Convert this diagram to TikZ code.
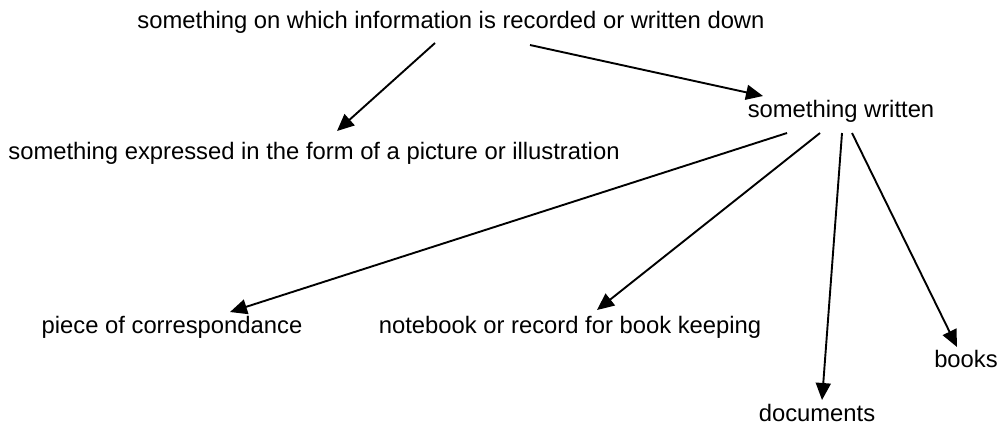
\documentclass[tikz,border=0pt]{standalone}
\usepackage{fontspec}
\setmainfont{Liberation Sans}
\usepackage{tikz}
\usetikzlibrary{calc,arrows.meta}

\begin{document}
\begin{tikzpicture}[x=0.5pt,y=-0.5pt]
  % 1 unit = 1 px of the 999x425 layout
  \tikzset{
    term/.style={font=\fontsize{11.9}{14}\selectfont,inner sep=1pt},
    arr/.style={-{Triangle[length=8.5pt,width=7.5pt]},line width=0.95pt}
  }
  \useasboundingbox (0,0) rectangle (999,425);

  % Terms
  \node[term] (record)  at (451,22)  {something on which information is recorded or written down};
  \node[term] (picture) at (314,153) {something expressed in the form of a picture or illustration};
  \node[term] (written) at (841,111) {something written};
  \node[term] (letter)  at (172,327) {piece of correspondance};
  \node[term] (notebk)  at (570,327) {notebook or record for book keeping};
  \node[term] (docs)    at (817,413) {documents};
  \node[term] (books)   at (966,359) {books};

  % Links from the top term
  \draw[arr] ($(record)+(-16,21)$) -- ($(picture)+(23,-22)$);
  \draw[arr] ($(record)+(79,23)$) -- ($(written)+(-78,-15)$);

  % Links from "something written"
  \draw[arr] ($(written)+(-54,22)$) -- ($(letter)+(58,-15)$);
  \draw[arr] ($(written)+(-21,22)$) -- ($(notebk)+(27,-17)$);
  \draw[arr] ($(written)+(1,22)$) -- ($(docs)+(5,-13)$);
  \draw[arr] ($(written)+(11,22)$) -- ($(books)+(-9,-12)$);
\end{tikzpicture}
\end{document}
